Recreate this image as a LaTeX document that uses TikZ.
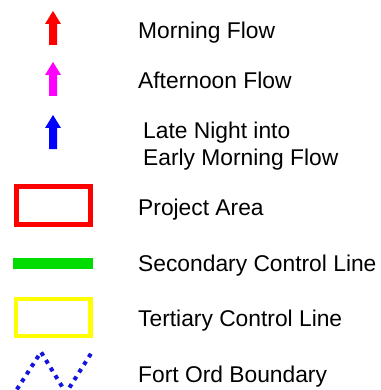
\documentclass[tikz,border=0pt]{standalone}
\usepackage{fontspec}
\setmainfont{Liberation Sans}
\definecolor{lgreen}{RGB}{0,220,0}
\definecolor{lblue}{RGB}{20,20,225}
\definecolor{lred}{RGB}{255,0,0}
\definecolor{lmag}{RGB}{255,0,255}
\definecolor{lbluearr}{RGB}{0,0,255}
\definecolor{lyellow}{RGB}{255,255,0}
\begin{document}
\begin{tikzpicture}[x=1pt,y=-1pt,
  lab/.style={anchor=base west,inner sep=0pt,font=\fontsize{22.8}{26}\selectfont},
  flowarrow/.pic={\fill[pic actions] (-4,34)--(-4,13)--(-8,13)--(0,0)--(8,13)--(4,13)--(4,34)--cycle;}
]
\useasboundingbox[fill=white] (0,0) rectangle (380,390);
% arrows
\pic[fill=lred] (a1) at (53,11) {flowarrow};
\pic[fill=lmag] (a2) at (53,62) {flowarrow};
\pic[fill=lbluearr] (a3) at (53,115) {flowarrow};
% boxes and lines
\draw[lred,line width=5pt] (16,186.5) rectangle (90.5,224.5);
\draw[lgreen,line width=11pt] (13,263.5) -- (93,263.5);
\draw[lyellow,line width=4.5pt] (16,299) rectangle (90.5,336);
\draw[lblue,line width=4pt,dash pattern=on 4pt off 5pt] (12,397) -- (41,352) -- (66,393) -- (92,352);
% labels
\node[lab] (t1) at (138,39) {Morning Flow};
\node[lab] (t2) at (138,89) {Afternoon Flow};
\node[lab] (t3a) at (143,139) {Late Night into};
\node[lab] (t3b) at (143,165) {Early Morning Flow};
\node[lab] (t4) at (138,215) {Project Area};
\node[lab] (t5) at (138,271) {Secondary Control Line};
\node[lab] (t6) at (138,326) {Tertiary Control Line};
\node[lab] (t7) at (138,382) {Fort Ord Boundary};
\end{tikzpicture}
\end{document}
